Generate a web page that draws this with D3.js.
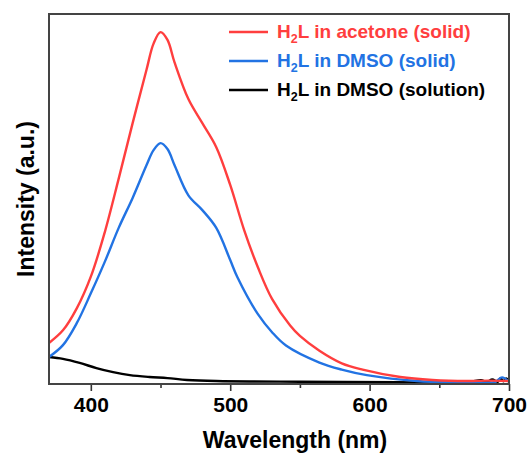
<!DOCTYPE html>
<html>
<head>
<meta charset="utf-8">
<script src="https://cdn.jsdelivr.net/npm/d3@7"></script>
<style>
	body { margin: 0; background: #fff; }
	text { font-family: 'Liberation Sans', Arial, sans-serif; font-weight: bold; }
</style>
</head>
<body>
<div id="chart"></div>
<script>
// ---------------- DATA ----------------
const redWl = [370, 380, 390, 400, 410, 420, 430, 440, 445, 450, 455, 460, 470, 480, 490, 500, 510, 520, 530, 543, 550, 564, 580, 595, 622, 645, 670, 685, 700];
const redInt = [11.1, 14.5, 20.5, 29, 41, 55.5, 70.5, 85, 92, 95.1, 93, 87, 77, 70.5, 64, 53.8, 41.6, 31.4, 23, 15.8, 13, 9, 5.6, 3.9, 1.9, 1.1, 0.8, 0.9, 0.8];

const blueWl = [370, 380, 390, 400, 410, 420, 430, 440, 445, 450, 455, 460, 470, 480, 490, 500, 505, 520, 530, 540, 564, 580, 598, 634, 660, 690, 695, 700];
const blueInt = [7.3, 10.5, 16.5, 24.5, 33, 42.2, 50.3, 59.2, 63.2, 65.1, 63.5, 59.2, 51, 47, 42.2, 33.5, 29, 18.8, 14, 10.4, 5.8, 3.9, 2.4, 0.8, 0.5, 0.6, 1.8, 0.6];

const blackWl = [370, 380, 392, 404, 416, 428, 442, 455, 469, 490, 550, 620, 670, 680, 684, 688, 692, 694, 696, 698, 700];
const blackInt = [7.3, 6.8, 5.7, 4.3, 3.2, 2.4, 1.9, 1.6, 1.1, 0.8, 0.6, 0.5, 0.5, 1.0, 0.6, 1.2, 0.6, 1.6, 0.7, 1.5, 0.8];

const seriesNames = ['H2L in acetone (solid)', 'H2L in DMSO (solid)', 'H2L in DMSO (solution)'];
const seriesColors = ['#ff3e3e', '#2273e3', '#000000'];
const majorTicks = [400, 500, 600, 700];
const minorTicks = [450, 550, 650];

// ---------------- CHART ----------------
const width = 531, height = 454;
const margin = { left: 49, right: 22, top: 14, bottom: 70 };

const svg = d3.select('#chart').append('svg').attr('width', width).attr('height', height);

const x = d3.scaleLinear().domain([370, 700]).range([margin.left, width - margin.right]);
const y = d3.scaleLinear().domain([0, 100]).range([height - margin.bottom, margin.top]);

const series = [
	{ wl: redWl, val: redInt },
	{ wl: blueWl, val: blueInt },
	{ wl: blackWl, val: blackInt },
].map((s, i) => ({ name: seriesNames[i], color: seriesColors[i], points: s.wl.map((w, j) => [w, s.val[j]]) }));

const line = d3.line()
	.x((d) => x(d[0]))
	.y((d) => y(d[1]))
	.curve(d3.curveCatmullRom.alpha(0.5));

svg.append('defs').append('clipPath').attr('id', 'clip')
	.append('rect')
	.attr('x', margin.left).attr('y', margin.top)
	.attr('width', x(700) - x(370)).attr('height', y(0) - y(100));

// draw black first, red on top like the original
svg.append('g').attr('clip-path', 'url(#clip)')
	.selectAll('path')
	.data([series[2], series[1], series[0]])
	.join('path')
	.attr('d', (d) => line(d.points))
	.attr('fill', 'none')
	.attr('stroke', (d) => d.color)
	.attr('stroke-width', 2.4)
	.attr('stroke-linejoin', 'round');

// x axis, major and minor ticks
const xAxis = svg.append('g').attr('transform', `translate(0,${y(0)})`);
xAxis.call(d3.axisBottom(x).tickValues(majorTicks).tickSize(7).tickPadding(6).tickFormat(d3.format('d')));
xAxis.append('g').call(d3.axisBottom(x).tickValues(minorTicks).tickSize(4).tickFormat(''));
xAxis.selectAll('.domain').remove();
xAxis.selectAll('line').attr('stroke', '#333').attr('stroke-width', 1.6);
xAxis.selectAll('text').attr('font-size', 21).attr('fill', '#000')
	.attr('font-family', "'Liberation Sans', Arial, sans-serif").attr('font-weight', 'bold');

// frame
svg.append('rect')
	.attr('x', x(370)).attr('y', y(100))
	.attr('width', x(700) - x(370)).attr('height', y(0) - y(100))
	.attr('fill', 'none').attr('stroke', '#444').attr('stroke-width', 2);

// axis titles
svg.append('text')
	.attr('x', (x(370) + x(700)) / 2 + 16).attr('y', 448)
	.attr('text-anchor', 'middle').attr('font-size', 23)
	.text('Wavelength (nm)');

svg.append('text')
	.attr('transform', `translate(34,${(y(0) + y(100)) / 2}) rotate(-90)`)
	.attr('text-anchor', 'middle').attr('font-size', 23)
	.text('Intensity (a.u.)');

// legend
const legend = svg.append('g');
const rowY = [32, 61, 90];
series.forEach((s, i) => {
	legend.append('line')
		.attr('x1', 229).attr('x2', 268)
		.attr('y1', rowY[i]).attr('y2', rowY[i])
		.attr('stroke', s.color).attr('stroke-width', 2.4);
	const t = legend.append('text')
		.attr('x', 277).attr('y', rowY[i] + 6)
		.attr('font-size', 19).attr('fill', s.color);
	t.append('tspan').text('H');
	t.append('tspan').text('2').attr('font-size', 12.5).attr('dy', 5);
	t.append('tspan').text(s.name.slice(2)).attr('dy', -5);
});
</script>
</body>
</html>
